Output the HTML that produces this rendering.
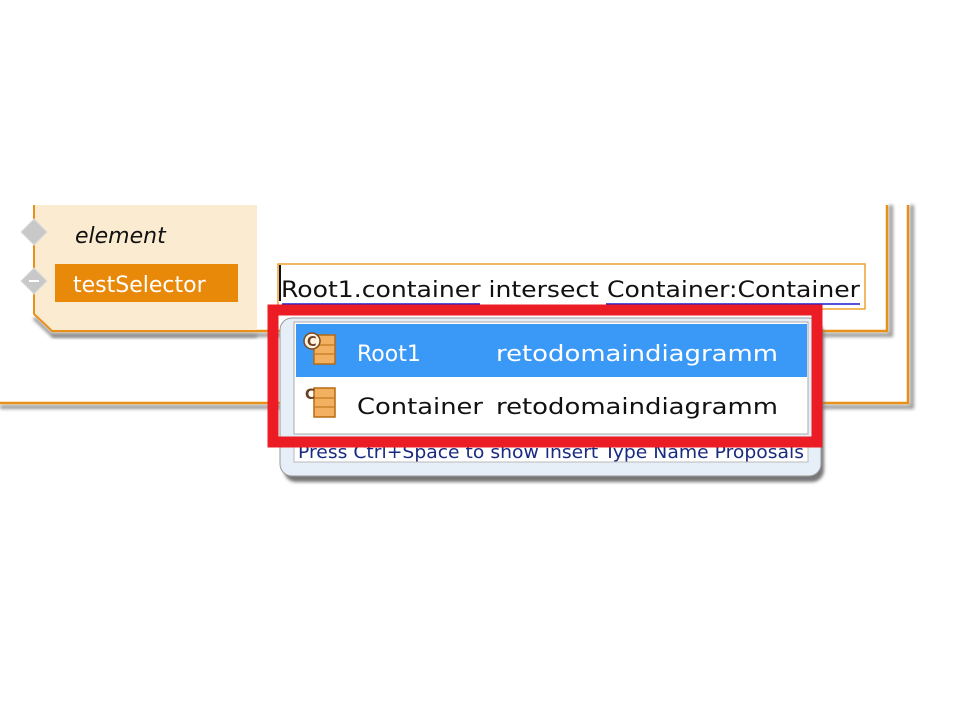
<!DOCTYPE html>
<html><head><meta charset="utf-8"><style>
body{margin:0;width:960px;height:720px;background:#fff;position:relative;overflow:hidden;font-family:"DejaVu Sans","Liberation Sans",sans-serif}
.a{position:absolute}
</style></head><body>
<svg class="a" style="left:0;top:0" width="960" height="720">
<defs><filter id="sh" x="-10%" y="-10%" width="130%" height="130%"><feGaussianBlur stdDeviation="1.5"/></filter></defs>
<polyline points="0,407 912,407 912,205" fill="none" stroke="#999" stroke-width="4" filter="url(#sh)"/>
<polyline points="0,403 908,403 908,205" fill="none" stroke="#e8901a" stroke-width="2.5"/>
<polyline points="52,335 891,335 891,205" fill="none" stroke="#999" stroke-width="4" filter="url(#sh)"/>
<polyline points="52,331 887,331 887,205" fill="none" stroke="#e8901a" stroke-width="2.5"/>
<polygon points="34,205 257,205 257,331 52,331 34,314" fill="#fbebd0"/>
<polyline points="34,318 53,336 257,336" fill="none" stroke="#888" stroke-width="3" filter="url(#sh)"/>
<polyline points="34,205 34,314 52,331 257,331" fill="none" stroke="#e8901a" stroke-width="2"/>
<polygon points="34,219 47,232 34,245 21,232" fill="#c8c8c8" stroke="#ddd"/>
<polygon points="34,268 47,281 34,294 21,281" fill="#c8c8c8" stroke="#ddd"/>
<rect x="29" y="280" width="10" height="2" fill="#fff"/>
<rect x="55" y="264" width="183" height="38" fill="#e8890a"/>
<text x="75" y="243" font-family="DejaVu Sans" font-style="italic" font-size="22" fill="#111">element</text>
<text x="73" y="292" font-family="DejaVu Sans" font-size="22" fill="#fff">testSelector</text>
<rect x="278" y="264" width="587" height="45" fill="#fff" stroke="#f0a030" stroke-width="1.5"/>
<rect x="279" y="265" width="2" height="36" fill="#111"/>
<text x="281" y="297" font-family="DejaVu Sans" font-size="22" fill="#111" textLength="579" lengthAdjust="spacingAndGlyphs">Root1.container intersect Container:Container</text>
<line x1="282" y1="304" x2="480" y2="304" stroke="#1a1ad0" stroke-width="1.5"/>
<line x1="606" y1="304" x2="860" y2="304" stroke="#1a1ad0" stroke-width="1.5"/>
<rect x="284" y="322" width="540" height="160" rx="12" fill="#777" filter="url(#sh)"/>
<rect x="280" y="318" width="541" height="158" rx="12" fill="#e6eef7" stroke="#999"/>
<rect x="294" y="322" width="514" height="112" fill="#fff" stroke="#aaa"/>
<rect x="296" y="324" width="511" height="53" fill="#3a98f6"/>
<rect x="294" y="437" width="514" height="25" fill="#fff" stroke="#bbb"/>
<text x="298" y="458" font-family="DejaVu Sans" font-size="18" fill="#1a2a80" textLength="506" lengthAdjust="spacingAndGlyphs">Press Ctrl+Space to show insert Type Name Proposals</text>
<g><rect x="314" y="335" width="21" height="29" fill="#f2b060" stroke="#b86a10" stroke-width="1.5"/><line x1="315" y1="345" x2="334" y2="345" stroke="#b86a10"/><line x1="315" y1="354" x2="334" y2="354" stroke="#b86a10"/>
<circle cx="312" cy="341" r="8" fill="#fff3e0" stroke="#7a4a20" stroke-width="1.5"/><text x="307" y="346" font-family="DejaVu Sans" font-size="13" font-weight="bold" fill="#6a4020">C</text></g>
<g><rect x="314" y="388" width="21" height="29" fill="#f2b060" stroke="#b86a10" stroke-width="1.5"/><line x1="315" y1="398" x2="334" y2="398" stroke="#b86a10"/><line x1="315" y1="407" x2="334" y2="407" stroke="#b86a10"/>
<text x="305" y="399" font-family="DejaVu Sans" font-size="14" font-weight="bold" fill="#6a4020">C</text></g>
<text x="357" y="361" font-family="DejaVu Sans" font-size="22" fill="#fff">Root1</text>
<text x="496" y="361" font-family="DejaVu Sans" font-size="22" fill="#fff" textLength="282" lengthAdjust="spacingAndGlyphs">retodomaindiagramm</text>
<text x="357" y="414" font-family="DejaVu Sans" font-size="22" fill="#111" textLength="126" lengthAdjust="spacingAndGlyphs">Container</text>
<text x="496" y="414" font-family="DejaVu Sans" font-size="22" fill="#111" textLength="282" lengthAdjust="spacingAndGlyphs">retodomaindiagramm</text>
<rect x="273" y="310" width="544" height="132" fill="none" stroke="#ec1c24" stroke-width="11"/>
</svg>
</body></html>
